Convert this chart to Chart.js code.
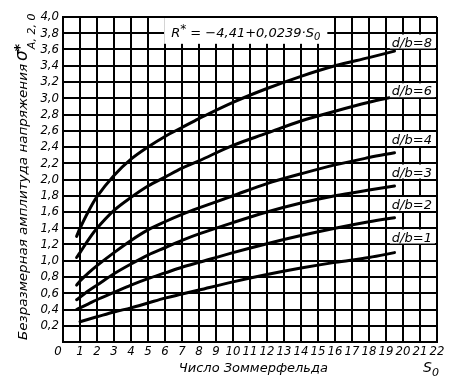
<!DOCTYPE html>
<html><head><meta charset="utf-8">
<script src="https://cdn.jsdelivr.net/npm/chart.js@4/dist/chart.umd.min.js"></script>
<style>html,body{margin:0;padding:0;background:#fff}#wrap{width:454px;height:388px;position:relative}</style>
</head><body><div id="wrap"><canvas id="c" width="454" height="388"></canvas></div>
<script>
// ---- data ----
const xValues = [0.8, 1, 1.5, 2, 3, 4, 5, 6, 7, 8, 10, 12, 14, 16, 18, 19.5];
const db8 = [1.30, 1.40, 1.61, 1.79, 2.05, 2.25, 2.40, 2.53, 2.64, 2.75, 2.95, 3.12, 3.27, 3.40, 3.50, 3.58];
const db6 = [1.04, 1.10, 1.26, 1.40, 1.62, 1.78, 1.92, 2.03, 2.14, 2.23, 2.42, 2.57, 2.72, 2.84, 2.95, 3.02];
const db4 = [0.70, 0.75, 0.85, 0.94, 1.10, 1.25, 1.38, 1.48, 1.57, 1.65, 1.80, 1.95, 2.07, 2.18, 2.27, 2.33];
const db3 = [0.52, 0.55, 0.63, 0.70, 0.84, 0.96, 1.07, 1.16, 1.25, 1.33, 1.47, 1.60, 1.71, 1.80, 1.87, 1.92];
const db2 = [0.40, 0.42, 0.47, 0.52, 0.61, 0.70, 0.78, 0.85, 0.92, 0.98, 1.10, 1.21, 1.31, 1.40, 1.48, 1.53];
const xValues1 = [1, 2, 3, 4, 5, 6, 7, 8, 10, 12, 14, 16, 18, 19.5];
const db1 = [0.25, 0.31, 0.37, 0.42, 0.48, 0.54, 0.59, 0.64, 0.74, 0.83, 0.91, 0.98, 1.04, 1.10];
const seriesNames = ['d/b=8', 'd/b=6', 'd/b=4', 'd/b=3', 'd/b=2', 'd/b=1'];
const labelLevels = [3.6, 3.0, 2.4, 2.0, 1.6, 1.2];   // grid line each curve label sits on
const xTickMax = 22, yTickMax = 4.0, yStep = 0.2;
const yTitle = 'Безразмерная амплитуда напряжения';
const xTitle = 'Число Зоммерфельда';

const toPts = (xs, ys) => xs.map((x, i) => ({x, y: ys[i]}));
const seriesData = [toPts(xValues, db8), toPts(xValues, db6), toPts(xValues, db4),
                    toPts(xValues, db3), toPts(xValues, db2), toPts(xValues1, db1)];

const SANS = '"DejaVu Sans", sans-serif';
const NARROW = '"Liberation Sans Narrow", "DejaVu Sans Condensed", sans-serif';

function drawRich(ctx, parts, x, y) {
  let cx = x;
  for (const p of parts) {
    ctx.font = p.font;
    ctx.fillText(p.t, cx, y + (p.dy || 0));
    cx += ctx.measureText(p.t).width;
  }
  return cx - x;
}
function richWidth(ctx, parts) {
  let w = 0;
  for (const p of parts) { ctx.font = p.font; w += ctx.measureText(p.t).width; }
  return w;
}

const deco = {
  id: 'deco',
  afterDraw(chart) {
    const {ctx, scales: {x, y}} = chart;
    ctx.save();
    ctx.fillStyle = '#000';
    ctx.textBaseline = 'alphabetic';
    ctx.textAlign = 'left';

    // curve labels with white boxes
    ctx.font = 'italic 13px ' + SANS;
    const right = x.getPixelForValue(21.7);
    seriesNames.forEach((name, i) => {
      const gy = y.getPixelForValue(labelLevels[i]);
      const w = ctx.measureText(name).width;
      ctx.fillStyle = '#fff';
      ctx.fillRect(right - w - 2, gy - 15, w + 5, 14);
      ctx.fillStyle = '#000';
      ctx.fillText(name, right - w, gy - 3);
    });

    // formula box
    const fParts = [
      {t: 'R', font: 'italic 13px ' + SANS},
      {t: '*', font: 'italic 12px ' + SANS, dy: -4},
      {t: ' = −4,41+0,0239·S', font: 'italic 13px ' + SANS},
      {t: '0', font: 'italic 10px ' + SANS, dy: 3},
    ];
    const fw = richWidth(ctx, fParts);
    const fcx = x.getPixelForValue(10.75);
    const fTop = y.getPixelForValue(4.0) + 1;
    const fBot = y.getPixelForValue(3.67);
    ctx.fillStyle = '#fff';
    ctx.fillRect(fcx - fw / 2 - 7, fTop, fw + 14, fBot - fTop);
    ctx.fillStyle = '#000';
    drawRich(ctx, fParts, fcx - fw / 2, y.getPixelForValue(3.8) + 4);

    // origin "0"
    ctx.font = 'italic 13px ' + NARROW;
    ctx.textAlign = 'center';
    ctx.fillText('0', x.left - 5, y.bottom + 13);
    ctx.textAlign = 'left';

    // x title + S0
    ctx.font = 'italic 13px ' + SANS;
    ctx.textAlign = 'center';
    ctx.fillText(xTitle, x.getPixelForValue(11.2), y.bottom + 30);
    ctx.textAlign = 'left';
    drawRich(ctx, [
      {t: 'S', font: 'italic 14px ' + SANS},
      {t: '0', font: 'italic 11px ' + SANS, dy: 4},
    ], x.right - 14, y.bottom + 30);

    // y title rotated
    ctx.translate(27, y.bottom - 2);
    ctx.rotate(-Math.PI / 2);
    ctx.font = 'italic 13px ' + SANS;
    const tw = ctx.measureText(yTitle).width;
    const target = y.bottom - 2 - 64;
    ctx.save();
    ctx.scale(target / tw, 1);
    ctx.fillText(yTitle, 0, 0);
    ctx.restore();
    ctx.font = 'italic 17px ' + SANS;
    const sx = target + 3;
    ctx.fillText('σ', sx, 0);
    const sw = ctx.measureText('σ').width;
    ctx.font = 'bold 14px ' + SANS;
    ctx.fillText('*', sx + sw - 1, -3);
    ctx.font = 'italic 11px ' + SANS;
    ctx.fillText('A, 2, 0', sx + sw + 1, 8);
    ctx.restore();
  }
};

new Chart(document.getElementById('c'), {
  type: 'line',
  data: {
    datasets: seriesData.map((d, i) => ({
      label: seriesNames[i],
      data: d,
      borderColor: '#000',
      borderWidth: 3,
      pointRadius: 0,
      fill: false,
      tension: 0.35,
      borderCapStyle: 'round',
    }))
  },
  options: {
    responsive: false,
    animation: false,
    layout: {padding: {top: 17, right: 17, left: 0, bottom: 0}},
    plugins: {legend: {display: false}, tooltip: {enabled: false}},
    scales: {
      x: {
        type: 'linear', min: 0, max: xTickMax,
        ticks: {stepSize: 1, color: '#000', padding: 2, maxRotation: 0, autoSkip: false,
          font: {family: NARROW, size: 13, style: 'italic'},
          callback: v => v === 0 ? '' : String(v)},
        grid: {color: '#000', lineWidth: 2, drawTicks: false},
        border: {color: '#000', width: 2},
        afterFit: s => { s.height = 46; }
      },
      y: {
        min: 0, max: yTickMax,
        ticks: {stepSize: yStep, color: '#000', padding: 4, autoSkip: false,
          font: {family: NARROW, size: 13, style: 'italic'},
          callback: v => Math.abs(v) < 1e-9 ? '' : v.toFixed(1).replace('.', ',')},
        grid: {color: '#000', lineWidth: 2, drawTicks: false},
        border: {color: '#000', width: 2},
        afterFit: s => { s.width = 63; }
      }
    }
  },
  plugins: [deco]
});
</script></body></html>
